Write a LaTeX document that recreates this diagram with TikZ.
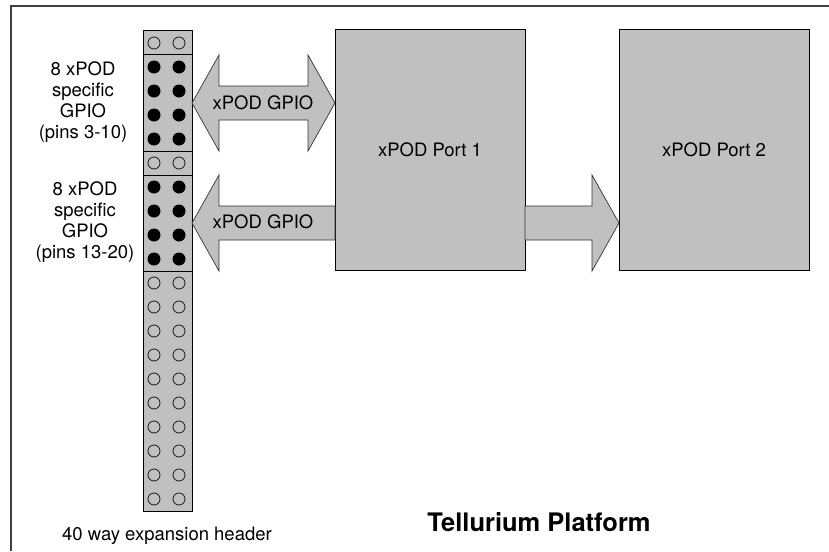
\documentclass[tikz,border=0pt]{standalone}
\usepackage{fontspec}
\setmainfont{TeX Gyre Heros}
\usetikzlibrary{calc,positioning}

\definecolor{silver}{RGB}{192,192,192}
\definecolor{framegray}{RGB}{64,64,64}

\begin{document}
\begin{tikzpicture}
	% Styles
	[
	x=1pt, y=-1pt,
	frame/.style={draw=framegray,line width=1.5pt},
	box/.style={rectangle,draw=black,fill=silver,line width=1pt,inner sep=0pt,outer sep=0pt},
	fatarrow/.style={draw=black!80,fill=silver,line width=0.7pt,line join=miter},
	pinopen/.style={draw=black!90,line width=0.8pt},
	pinused/.style={fill=black},
	txt/.style={font=\fontsize{18.5}{21}\selectfont,align=center,inner sep=0pt},
	]
	\useasboundingbox (0,0) rectangle (829,551);

	% Frame
	\draw[frame] (11,551) -- (11,6) -- (829,6);

	% Nodes
	\node at (167.5,271) (hdr) [box,minimum width=49pt,minimum height=480pt] {};
	\node at (167.5,103) (g1) [box,minimum width=49pt,minimum height=96pt] {};
	\node at (167.5,223) (g2) [box,minimum width=49pt,minimum height=96pt] {};
	\node at (430,150) (port1) [box,txt,minimum width=190pt,minimum height=240pt] {xPOD Port 1};
	\node at (714,150) (port2) [box,txt,minimum width=190pt,minimum height=240pt] {xPOD Port 2};

	% Pins
	\foreach \r in {0,5,10,11,12,13,14,15,16,17,18,19}
		\foreach \c in {154,179}
			\draw[pinopen] (\c,43+24*\r) circle[radius=6pt];
	\foreach \r in {1,2,3,4,6,7,8,9}
		\foreach \c in {154,179}
			\fill[pinused] (\c,43+24*\r) circle[radius=6.5pt];

	% Arrows
	\draw[fatarrow] (g1.east) -- ++(27,-48) -- ++(0,31)
		-- ($(g1.east -| port1.west)+(-27,-17)$) -- ++(0,-31)
		-- (g1.east -| port1.west) -- ++(-27,48) -- ++(0,-31)
		-- ($(g1.east)+(27,17)$) -- ++(0,31) -- cycle;
	\draw[fatarrow] (g2.east) -- ++(27,-48) -- ++(0,31)
		-- ($(g2.east -| port1.west)+(0,-17)$) -- ++(0,34)
		-- ($(g2.east)+(27,17)$) -- ++(0,31) -- cycle;
	\draw[fatarrow] ($(g2.east -| port1.east)+(0,-17)$)
		-- ($(g2.east -| port2.west)+(-27,-17)$) -- ++(0,-31)
		-- (g2.east -| port2.west) -- ++(-27,48) -- ++(0,-31)
		-- ($(g2.east -| port1.east)+(0,17)$) -- cycle;

	% Text
	\node at (263,103) (gpio1) [txt] {xPOD GPIO};
	\node at (263,222) (gpio2) [txt] {xPOD GPIO};
	\node at (83,102) (pins1) [txt] {8 xPOD\\specific\\GPIO\\(pins 3-10)};
	\node at (85,222) (pins2) [txt] {8 xPOD\\specific\\GPIO\\(pins 13-20)};
	\node at (167,540) (hdrlbl) [txt,anchor=base] {40 way expansion header};
	\node at (539,531) (title) [anchor=base,inner sep=0pt,font=\fontsize{25.5}{30}\selectfont\bfseries] {Tellurium Platform};
\end{tikzpicture}
\end{document}
